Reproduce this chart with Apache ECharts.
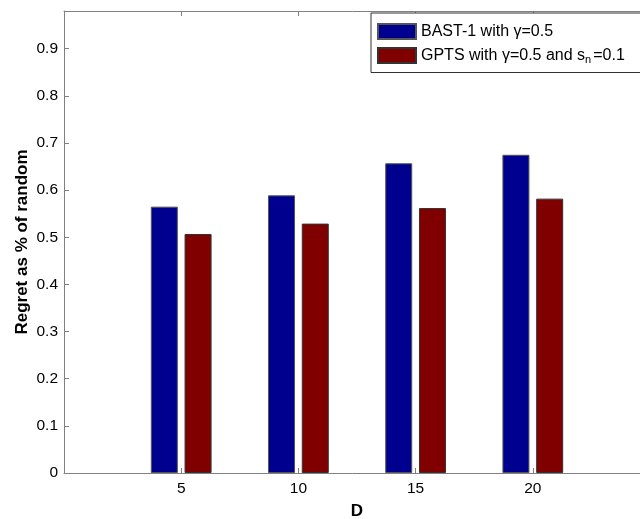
<!DOCTYPE html>
<html>
<head>
<meta charset="utf-8">
<script src="https://cdn.jsdelivr.net/npm/echarts@6/dist/echarts.min.js"></script>
<style>
  html, body { margin: 0; padding: 0; background: #fff; }
  #chart { width: 640px; height: 519px; }
</style>
</head>
<body>
<div id="chart"></div>
<script>
// values
const dValues = [5, 10, 15, 20];
const bastValues = [0.565, 0.589, 0.657, 0.675];
const gptsValues = [0.507, 0.529, 0.562, 0.582];
const seriesNames = ['BAST-1 with γ=0.5', 'GPTS with γ=0.5 and sn=0.1'];

const font = '"Liberation Sans", Arial, Helvetica, sans-serif';
const axisGray = '#808080';

const chart = echarts.init(document.getElementById('chart'));

const option = {
    animation: false,
    backgroundColor: '#fff',
    textStyle: { fontFamily: font },
    grid: { left: 64, top: 11, width: 586, height: 462, outerBoundsMode: 'none', containLabel: false },
    legend: {
        orient: 'vertical',
        left: 371,
        top: 13,
        padding: [10, 60, 7, 6],
        itemGap: 7,
        itemWidth: 38,
        itemHeight: 15,
        icon: 'rect',
        borderColor: '#333',
        borderWidth: 1,
        backgroundColor: '#fff',
        textStyle: {
            fontFamily: font,
            fontSize: 16,
            color: '#000',
            rich: {
                sub: { fontSize: 11, fontFamily: font, color: '#000', padding: [9, 2, 0, 0] }
            }
        },
        formatter: function (name) {
            if (name === seriesNames[1]) {
                return 'GPTS with γ=0.5 and s{sub|n}=0.1';
            }
            return name;
        },
        data: seriesNames
    },
    xAxis: [{
        type: 'value',
        min: 0,
        max: 25,
        name: 'D',
        nameLocation: 'middle',
        nameGap: 30,
        nameMoveOverlap: false,
        nameTextStyle: { fontFamily: font, fontSize: 17, fontWeight: 'bold', color: '#000' },
        axisLine: { show: true, lineStyle: { color: axisGray, width: 1 } },
        axisTick: { show: true, inside: true, length: 5, customValues: dValues, lineStyle: { color: axisGray } },
        axisLabel: { customValues: dValues, fontSize: 15.5, color: '#000', margin: 8 },
        splitLine: { show: false }
    }, {
        type: 'value',
        position: 'top',
        min: 0,
        max: 25,
        axisLine: { show: true, onZero: false, lineStyle: { color: axisGray, width: 1 } },
        axisTick: { show: true, inside: true, length: 5, customValues: dValues, lineStyle: { color: axisGray } },
        axisLabel: { show: false },
        splitLine: { show: false }
    }],
    yAxis: {
        type: 'value',
        min: 0,
        max: 0.98,
        interval: 0.1,
        name: 'Regret as % of random',
        nameLocation: 'middle',
        nameGap: 33,
        nameMoveOverlap: false,
        nameTextStyle: { fontFamily: font, fontSize: 17, fontWeight: 'bold', color: '#000' },
        axisLine: { show: true, lineStyle: { color: axisGray, width: 1 } },
        axisTick: { show: true, inside: true, length: 5, lineStyle: { color: axisGray } },
        axisLabel: {
            fontSize: 15.5,
            color: '#000',
            margin: 6,
            showMaxLabel: false,
            formatter: function (v) { return v === 0 ? '0' : v.toFixed(1); }
        },
        splitLine: { show: false }
    },
    series: [{
        name: seriesNames[0],
        type: 'bar',
        barWidth: 27,
        barGap: '25%',
        data: dValues.map((d, i) => [d, bastValues[i]]),
        itemStyle: { color: '#00008f', borderColor: '#555', borderWidth: 1 }
    }, {
        name: seriesNames[1],
        type: 'bar',
        barWidth: 27,
        barGap: '25%',
        data: dValues.map((d, i) => [d, gptsValues[i]]),
        itemStyle: { color: '#800000', borderColor: '#333', borderWidth: 1 }
    }]
};

chart.setOption(option);
</script>
</body>
</html>
